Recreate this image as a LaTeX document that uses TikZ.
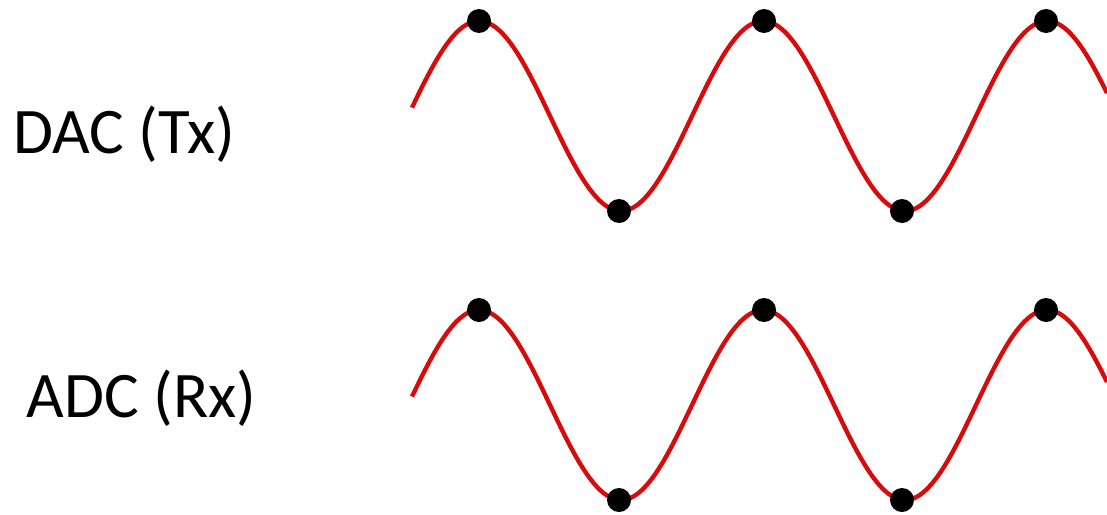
\documentclass[tikz,border=0pt]{standalone}
\usepackage{fontspec}
\setmainfont{Carlito}
\usepackage{tikz}
\usetikzlibrary{positioning}
\definecolor{wavered}{RGB}{214,12,12}
\tikzset{
  wave/.style={draw=wavered, line width=2.2pt, smooth},
  sample/.style={circle, fill=black, inner sep=0pt, minimum size=12pt},
  chanlabel/.style={anchor=base west, inner sep=0pt,
    font=\fontsize{32.5}{39}\selectfont},
}

\begin{document}
\begin{tikzpicture}[x=0.5pt, y=-0.5pt]
  \useasboundingbox (0,0) rectangle (1107,514);

  \node[chanlabel] (dac) at (13,153) {DAC (Tx)};
  \node[chanlabel] (adc) at (26,417) {ADC (Rx)};

  % transmitted and received waves
  \draw[wave] plot[domain=412:1107, samples=160]
    (\x, {116 - 95*cos(1.2676*(\x-479))});
  \draw[wave] plot[domain=412:1107, samples=160]
    (\x, {405 - 95*cos(1.2676*(\x-479))});

  % samples at peaks and troughs
  \foreach \k/\px/\s in {0/479/1, 1/619/-1, 2/764/1, 3/902/-1, 4/1046/1} {
    \node[sample] (tx\k) at (\px, {116 - 95*\s}) {};
    \node[sample] (rx\k) at (\px, {405 - 95*\s}) {};
  }
\end{tikzpicture}
\end{document}
